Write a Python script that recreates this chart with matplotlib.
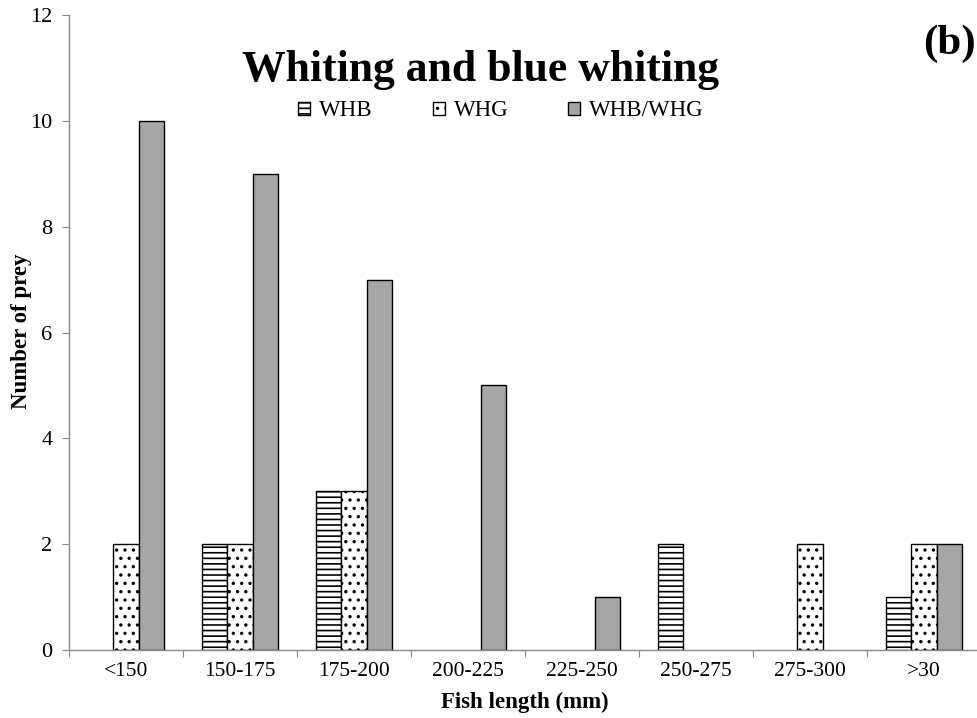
import matplotlib
matplotlib.use("Agg")
import matplotlib.pyplot as plt
import numpy as np

categories = ["<150", "150-175", "175-200", "200-225", "225-250", "250-275", "275-300", ">30"]
whb = [0, 2, 3, 0, 0, 2, 0, 1]
whg = [2, 2, 3, 0, 0, 0, 2, 2]
whb_whg = [10, 9, 7, 5, 1, 0, 0, 2]
series_names = ["WHB", "WHG", "WHB/WHG"]
y_ticks = [0, 2, 4, 6, 8, 10, 12]

plt.rcParams["font.family"] = ["Liberation Serif", "DejaVu Serif"]
plt.rcParams["hatch.linewidth"] = 1.2

W, H = 978, 718
fig = plt.figure(figsize=(W / 100, H / 100), dpi=100)
left, right, top, bottom = 69, 981, 15, 650
ax = fig.add_axes([left / W, (H - bottom) / H, (right - left) / W, (bottom - top) / H])

x = np.arange(len(categories)) + 0.5
bw = 0.222


def edges(values):
    # empty bars get no outline
    return ["black" if v > 0 else "none" for v in values]


ax.bar(x - bw, whb, bw, facecolor="white", edgecolor=edges(whb), hatch="---", linewidth=1.0,
       label=series_names[0])
ax.bar(x, whg, bw, facecolor="white", edgecolor=edges(whg), hatch="..", linewidth=1.0,
       label=series_names[1])
ax.bar(x + bw, whb_whg, bw, facecolor="#a6a6a6", edgecolor=edges(whb_whg), linewidth=1.0,
       label=series_names[2])

ax.set_xlim(0, len(categories))
ax.set_ylim(0, 12)
ax.set_yticks(y_ticks)
ax.set_xticks(np.arange(len(categories) + 1), minor=False)
ax.set_xticklabels([])
ax.set_xticks(x, minor=True)
ax.set_xticklabels(categories, minor=True, fontsize=15.5)
ax.tick_params(axis="x", which="minor", length=0, pad=9)
ax.tick_params(axis="x", which="major", length=5, color="#888888", direction="out")
ax.tick_params(axis="y", length=5, color="#888888", direction="out", labelsize=16, pad=7)

for s in ["top", "right"]:
    ax.spines[s].set_visible(False)
for s in ["left", "bottom"]:
    ax.spines[s].set_color("#888888")
    ax.spines[s].set_linewidth(1.0)

ax.set_ylabel("Number of prey", fontsize=16.5, fontweight="bold")
ax.yaxis.set_label_coords(22 / W, (H - 331) / H, transform=fig.transFigure)
ax.set_xlabel("Fish length (mm)", fontsize=16.5, fontweight="bold")
ax.xaxis.set_label_coords(525 / W, (H - 702) / H, transform=fig.transFigure)
ax.xaxis.label.set_va("center")
ax.yaxis.label.set_va("center")

fig.text(481 / W, (H - 70) / H, "Whiting and blue whiting", ha="center", va="center",
         fontsize=31.5, fontweight="bold")
fig.text(976 / W, (H - 44) / H, "(b)", ha="right", va="center", fontsize=31, fontweight="bold")

handles, labels = ax.get_legend_handles_labels()
leg = ax.legend(handles, labels, loc="center", bbox_to_anchor=(501 / W, (H - 111) / H),
                bbox_transform=fig.transFigure, ncol=3, frameon=False, fontsize=16.5,
                handlelength=0.52, handleheight=0.52, handletextpad=0.4, columnspacing=2.6,
                borderpad=0, borderaxespad=0)
for h in leg.legend_handles:
    h.set_edgecolor("black")

fig.savefig("out.png", dpi=100)
